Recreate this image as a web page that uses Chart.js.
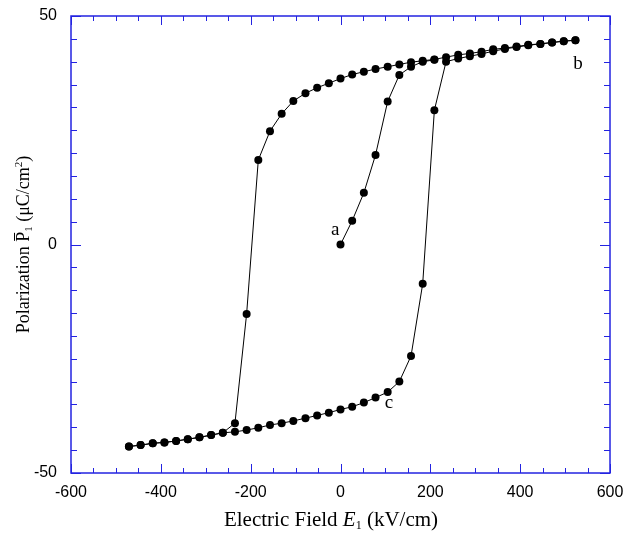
<!DOCTYPE html>
<html>
<head>
<meta charset="utf-8">
<script src="https://cdn.jsdelivr.net/npm/chart.js@4"></script>
<style>
  body { margin: 0; background: #fff; }
</style>
</head>
<body>
<canvas id="loopChart" width="629" height="533"></canvas>
<script>
// initial poling curve a -> b
const initialE = [0, 26, 52, 78, 105, 131, 157, 183, 209];
const initialP = [0, 5.2, 11.3, 19.6, 31.3, 37.1, 38.9, 40.0, 40.4];

// upper branch, field going down from b
const upperE = [523, 497, 471, 445, 418, 392, 366, 340, 314, 288, 262, 235, 209, 183, 157, 131, 105, 78, 52, 26, 0,
  -26, -52, -78, -105, -131, -157, -183, -209, -235, -262, -288, -314, -340, -366, -392, -418, -445, -471];
const upperP = [44.7, 44.5, 44.2, 43.9, 43.7, 43.3, 43.0, 42.7, 42.2, 41.8, 41.5, 41.0, 40.5, 40.2, 39.9, 39.4, 38.9, 38.4, 37.8, 37.2, 36.3,
  35.3, 34.3, 33.1, 31.4, 28.6, 24.8, 18.5, -15.2, -39.1, -41.2, -41.7, -42.2, -42.6, -43.0, -43.3, -43.5, -43.9, -44.2];

// lower branch, field going back up through c
const lowerE = [-471, -445, -418, -392, -366, -340, -314, -288, -262, -235, -209, -183, -157, -131, -105, -78, -52, -26, 0,
  26, 52, 78, 105, 131, 157, 183, 209, 235, 262, 288, 314, 340, 366, 392, 418, 445, 471, 497, 523];
const lowerP = [-44.2, -43.9, -43.5, -43.3, -43.0, -42.6, -42.2, -41.7, -41.2, -41.0, -40.6, -40.1, -39.5, -39.1, -38.6, -38.0, -37.4, -36.8, -36.1,
  -35.5, -34.6, -33.5, -32.3, -30.0, -24.4, -8.6, 29.4, 40.0, 40.7, 41.2, 41.7, 42.3, 42.8, 43.2, 43.6, 43.9, 44.2, 44.5, 44.7];

const xTickLabels = [-600, -400, -200, 0, 200, 400, 600];
const yTickLabels = [-50, 0, 50];

const curveLabels = ['a', 'b', 'c'];
const curveLabelE = [-12, 529, 108];
const curveLabelP = [3.2, 39.5, -34.7];

const axisBlue = 'rgb(35,35,225)';
const serif = '"Liberation Serif", "Times New Roman", serif';
const sans = '"Liberation Sans", Arial, sans-serif';

function toPoints(xs, ys) {
  return xs.map((x, i) => ({ x: x, y: ys[i] }));
}

function drawRuns(ctx, runs, cx, baseY, barY) {
  let total = 0;
  runs.forEach(r => { ctx.font = r.font; r.w = ctx.measureText(r.text).width; total += r.w; });
  let x = cx - total / 2;
  runs.forEach(r => {
    ctx.font = r.font;
    ctx.fillText(r.text, x, baseY + (r.dy || 0));
    if (r.bar) {
      ctx.beginPath();
      ctx.moveTo(x + 1, baseY - barY);
      ctx.lineTo(x + r.w - 1, baseY - barY);
      ctx.lineWidth = 1;
      ctx.stroke();
    }
    x += r.w;
  });
}

const framePlugin = {
  id: 'frame',
  afterDraw(chart) {
    const { ctx, chartArea: a, scales: { x, y } } = chart;
    ctx.save();
    ctx.strokeStyle = axisBlue;
    ctx.lineWidth = 1.5;
    ctx.strokeRect(a.left, a.top, a.right - a.left, a.bottom - a.top);

    ctx.lineWidth = 1;
    ctx.beginPath();
    for (let v = x.min; v <= x.max; v += 50) {
      const px = Math.round(x.getPixelForValue(v)) + 0.5;
      const len = v % 200 === 0 ? 9 : 5;
      ctx.moveTo(px, a.bottom); ctx.lineTo(px, a.bottom - len);
      ctx.moveTo(px, a.top); ctx.lineTo(px, a.top + len);
    }
    for (let v = y.min; v <= y.max; v += 5) {
      const py = Math.round(y.getPixelForValue(v)) + 0.5;
      const len = v % 50 === 0 ? 10 : 6;
      ctx.moveTo(a.left, py); ctx.lineTo(a.left + len, py);
      ctx.moveTo(a.right, py); ctx.lineTo(a.right - len, py);
    }
    ctx.stroke();
    ctx.restore();

    // curve labels
    ctx.save();
    ctx.fillStyle = '#000';
    ctx.font = '19px ' + serif;
    ctx.textAlign = 'center';
    ctx.textBaseline = 'middle';
    curveLabels.forEach((t, i) => {
      ctx.fillText(t, x.getPixelForValue(curveLabelE[i]), y.getPixelForValue(curveLabelP[i]));
    });
    ctx.restore();

    // axis titles
    ctx.save();
    ctx.fillStyle = '#000';
    ctx.strokeStyle = '#000';
    ctx.textAlign = 'left';
    ctx.textBaseline = 'alphabetic';
    drawRuns(ctx, [
      { text: 'Electric Field ', font: '21px ' + serif },
      { text: 'E', font: 'italic 21px ' + serif },
      { text: '1', font: '12px ' + serif, dy: 3 },
      { text: ' (kV/cm)', font: '21px ' + serif }
    ], 331, 526, 0);

    ctx.translate(23, (a.top + a.bottom) / 2);
    ctx.rotate(-Math.PI / 2);
    drawRuns(ctx, [
      { text: 'Polarization ', font: '18px ' + serif },
      { text: 'P', font: '18px ' + serif, bar: true },
      { text: '1', font: '11px ' + serif, dy: 3 },
      { text: ' (\u03bcC/cm', font: '18px ' + serif },
      { text: '2', font: '11px ' + serif, dy: -7 },
      { text: ')', font: '18px ' + serif }
    ], 0, 6, 14.5);
    ctx.restore();
  }
};

const lineStyle = {
  showLine: true,
  borderColor: '#000',
  borderWidth: 1,
  pointRadius: 4,
  pointBackgroundColor: '#000',
  pointBorderWidth: 0,
  tension: 0
};

function noPadding(scale) {
  scale.paddingTop = 0;
  scale.paddingBottom = 0;
  scale.paddingLeft = 0;
  scale.paddingRight = 0;
}

const ctx = document.getElementById('loopChart').getContext('2d');
const myChart = new Chart(ctx, {
  type: 'scatter',
  data: {
    datasets: [
      { label: 'initial', data: toPoints(initialE, initialP), ...lineStyle },
      { label: 'upper', data: toPoints(upperE, upperP), ...lineStyle },
      { label: 'lower', data: toPoints(lowerE, lowerP), ...lineStyle }
    ]
  },
  options: {
    responsive: false,
    animation: false,
    layout: { padding: { top: 16, right: 19, left: 0, bottom: 0 } },
    plugins: { legend: { display: false }, tooltip: { enabled: false } },
    scales: {
      x: {
        type: 'linear',
        min: -600, max: 600,
        afterFit(scale) { scale.height = 60; noPadding(scale); },
        afterBuildTicks(scale) { scale.ticks = xTickLabels.map(v => ({ value: v })); },
        grid: { display: false, drawTicks: false },
        border: { display: false },
        ticks: {
          color: '#000',
          padding: 10,
          maxRotation: 0,
          font: { family: sans, size: 16 }
        }
      },
      y: {
        type: 'linear',
        min: -50, max: 50,
        afterFit(scale) { scale.width = 71; noPadding(scale); },
        afterBuildTicks(scale) { scale.ticks = yTickLabels.map(v => ({ value: v })); },
        grid: { display: false, drawTicks: false },
        border: { display: false },
        ticks: {
          color: '#000',
          padding: 14,
          font: { family: sans, size: 16 }
        }
      }
    }
  },
  plugins: [framePlugin]
});
</script>
</body>
</html>
